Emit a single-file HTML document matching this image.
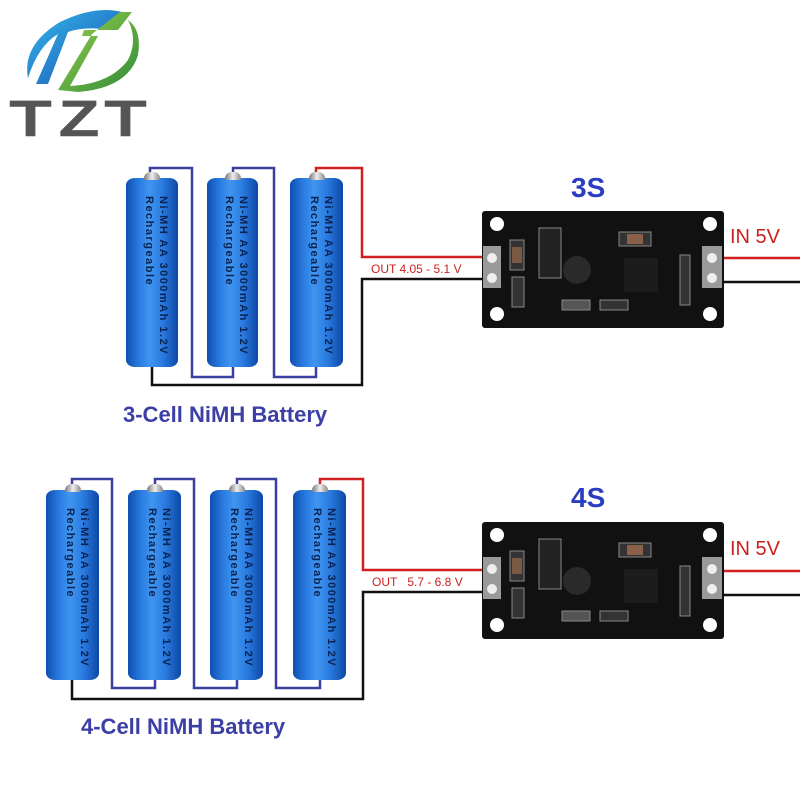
<!DOCTYPE html>
<html><head><meta charset="utf-8"><style>
body{margin:0;background:#fff;}
#c{position:relative;width:800px;height:800px;overflow:hidden;background:#fff;font-family:"Liberation Sans",sans-serif;}
.bat{position:absolute;border-radius:9px/7px;background:linear-gradient(90deg,#0f4fb0 0%,#2a7be0 25%,#3f95f0 45%,#2a7be0 70%,#0d47a5 100%);}
.bat .nub{position:absolute;top:-6px;left:50%;width:16px;margin-left:-8px;height:8px;border-radius:8px 8px 2px 2px;background:linear-gradient(90deg,#777,#eee,#888);}
.bat .t{position:absolute;top:18px;right:8px;writing-mode:vertical-rl;white-space:nowrap;font-size:11px;line-height:14px;letter-spacing:1.5px;color:#0a2250;font-family:"Liberation Sans",sans-serif;font-weight:bold;}
.lbl{position:absolute;color:#3b3fa6;font-weight:bold;font-size:22px;}
.red{position:absolute;color:#cc2020;}
</style></head><body><div id="c">
<svg width="800" height="800" style="position:absolute;left:0;top:0">
<defs>
<linearGradient id="lg1" x1="0" y1="0" x2="1" y2="1"><stop offset="0" stop-color="#35b8e8"/><stop offset="1" stop-color="#1a4fb5"/></linearGradient>
<linearGradient id="lg2" x1="0" y1="0" x2="1" y2="1"><stop offset="0" stop-color="#9ad04a"/><stop offset="1" stop-color="#2e8a3a"/></linearGradient>
</defs>
<path d="M28 78 Q22 45 60 22 Q95 5 122 12 L110 30 Q85 26 68 32 L48 84 L36 84 L58 34 Q38 46 28 78Z" fill="url(#lg1)"/>
<path d="M120 12 L132 12 L118 30 L84 30 L82 36 L98 36 L70 86 Q110 84 128 60 Q138 40 128 20 Q142 30 138 55 Q128 88 78 92 L58 90 L92 34Z" fill="url(#lg2)"/>
<g font-family="Liberation Sans" font-size="48" fill="#555" stroke="#555" stroke-width="2.5">
<text transform="translate(10,135) scale(1.4,1)">T</text>
<text transform="translate(60,135) scale(1.3,1)">Z</text>
<text transform="translate(105,135) scale(1.4,1)">T</text>
</g>
<g fill="none" stroke-width="2.5">
<polyline points="150,176 150,168 192,168 192,377 233,377 233,367" stroke="#3a3fa0"/>
<polyline points="233,176 233,168 274,168 274,377 316,377 316,367" stroke="#3a3fa0"/>
<polyline points="316,176 316,168 362,168 362,257 490,257" stroke="#d02020"/>
<polyline points="152,367 152,385 362,385 362,279 490,279" stroke="#111"/>
<line x1="710" y1="258" x2="800" y2="258" stroke="#d02020"/>
<line x1="710" y1="282" x2="800" y2="282" stroke="#111"/>
<polyline points="72,488 72,479 112,479 112,688 155,688 155,680" stroke="#3a3fa0"/>
<polyline points="155,488 155,479 194,479 194,688 237,688 237,680" stroke="#3a3fa0"/>
<polyline points="237,488 237,479 276,479 276,688 320,688 320,680" stroke="#3a3fa0"/>
<polyline points="320,488 320,479 363,479 363,570 490,570" stroke="#d02020"/>
<polyline points="72,680 72,699 363,699 363,592 490,592" stroke="#111"/>
<line x1="710" y1="571" x2="800" y2="571" stroke="#d02020"/>
<line x1="710" y1="595" x2="800" y2="595" stroke="#111"/>
</g>
<g id="b1">
<rect x="482" y="211" width="242" height="117" rx="3" fill="#111"/>
<circle cx="497" cy="224" r="7" fill="#fff"/><circle cx="497" cy="314" r="7" fill="#fff"/>
<circle cx="710" cy="224" r="7" fill="#fff"/><circle cx="710" cy="314" r="7" fill="#fff"/>
<rect x="483" y="246" width="18" height="42" fill="#9a9a9a"/><circle cx="492" cy="258" r="5" fill="#eee"/><circle cx="492" cy="278" r="5" fill="#eee"/>
<rect x="702" y="246" width="20" height="42" fill="#9a9a9a"/><circle cx="712" cy="258" r="5" fill="#eee"/><circle cx="712" cy="278" r="5" fill="#eee"/>
<rect x="510" y="240" width="14" height="30" fill="#333" stroke="#888"/><rect x="512" y="247" width="10" height="16" fill="#7a5a44"/>
<rect x="539" y="228" width="22" height="50" fill="#222" stroke="#888"/>
<circle cx="577" cy="270" r="14" fill="#2a2a2a"/>
<rect x="619" y="232" width="32" height="14" fill="#333" stroke="#888"/><rect x="627" y="234" width="16" height="10" fill="#8a6048"/>
<rect x="624" y="258" width="34" height="34" fill="#1c1c1c"/>
<rect x="512" y="277" width="12" height="30" fill="#333" stroke="#888"/>
<rect x="562" y="300" width="28" height="10" fill="#555" stroke="#888"/>
<rect x="600" y="300" width="28" height="10" fill="#333" stroke="#888"/>
<rect x="680" y="255" width="10" height="50" fill="#333" stroke="#888"/>
</g>
<use href="#b1" y="311"/>
</svg>
<div class="red" style="left:371px;top:262px;font-size:12px">OUT 4.05 - 5.1 V</div>
<div class="red" style="left:372px;top:575px;font-size:12px">OUT&nbsp;&nbsp;&nbsp;5.7 - 6.8 V</div>
<div class="red" style="left:730px;top:226px;font-size:20px">IN 5V</div>
<div class="red" style="left:730px;top:538px;font-size:20px">IN 5V</div>
<div class="lbl" style="left:571px;top:172px;font-size:28px;color:#2b3ec0">3S</div>
<div class="lbl" style="left:571px;top:482px;font-size:28px;color:#2b3ec0">4S</div>
<div class="lbl" style="left:123px;top:402px">3-Cell NiMH Battery</div>
<div class="lbl" style="left:81px;top:714px">4-Cell NiMH Battery</div>

<div class="bat" style="left:126px;top:178px;width:52px;height:189px"><div class="nub"></div><div class="t">Ni-MH AA 3000mAh 1.2V<br>Rechargeable</div></div>
<div class="bat" style="left:207px;top:178px;width:51px;height:189px"><div class="nub"></div><div class="t">Ni-MH AA 3000mAh 1.2V<br>Rechargeable</div></div>
<div class="bat" style="left:290px;top:178px;width:53px;height:189px"><div class="nub"></div><div class="t">Ni-MH AA 3000mAh 1.2V<br>Rechargeable</div></div>

<div class="bat" style="left:46px;top:490px;width:53px;height:190px"><div class="nub"></div><div class="t">Ni-MH AA 3000mAh 1.2V<br>Rechargeable</div></div>
<div class="bat" style="left:128px;top:490px;width:53px;height:190px"><div class="nub"></div><div class="t">Ni-MH AA 3000mAh 1.2V<br>Rechargeable</div></div>
<div class="bat" style="left:210px;top:490px;width:53px;height:190px"><div class="nub"></div><div class="t">Ni-MH AA 3000mAh 1.2V<br>Rechargeable</div></div>
<div class="bat" style="left:293px;top:490px;width:53px;height:190px"><div class="nub"></div><div class="t">Ni-MH AA 3000mAh 1.2V<br>Rechargeable</div></div>
</div></body></html>
